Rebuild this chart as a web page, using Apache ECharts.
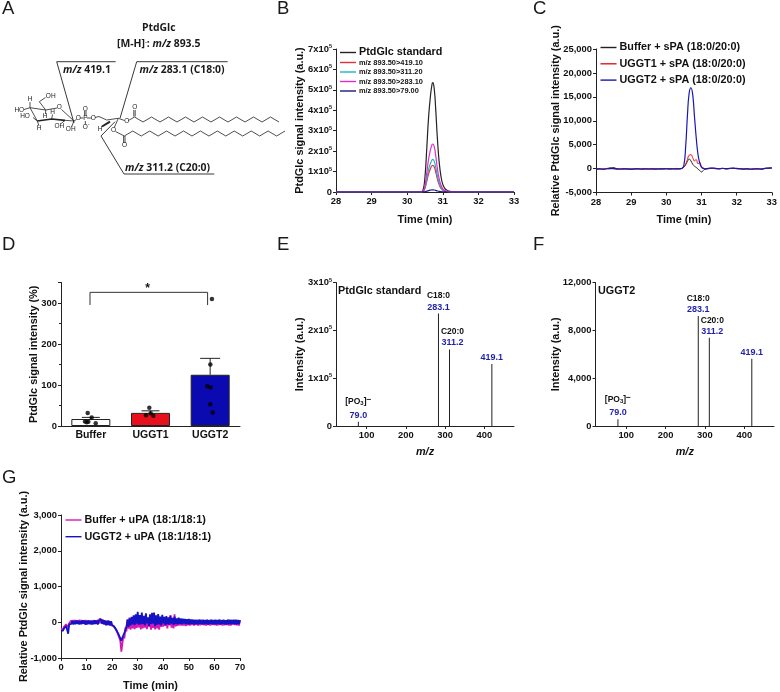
<!DOCTYPE html>
<html><head><meta charset="utf-8">
<style>html,body{margin:0;padding:0;background:#fff}#c{width:780px;height:692px}</style>
<script src="https://cdn.jsdelivr.net/npm/echarts@6/dist/echarts.min.js"></script>
</head><body><div id="c"></div>
<script>
// Panel B
const bTimes=[28,28.5,29,29.5,30,30.3,30.4,30.45,30.5,30.55,30.6,30.65,30.7,30.72,30.76,30.8,30.85,30.9,30.95,31,31.05,31.1,31.2,31.3,31.5,32,32.5,33];
const bStandard=[0,0,0,0,0,0,1000,11000,75000,214000,364000,465000,530000,535000,503000,407000,257000,144000,75000,37000,19000,11000,3000,1000,0,0,0,0];
const b419=[0,0,0,0,0,0,300,2600,18000,52000,88000,113000,129000,130000,122000,99000,62000,35000,18000,9000,4500,2600,800,300,0,0,0,0];
const b311=[0,0,0,0,0,0,300,3200,22000,64000,109000,139000,158000,160000,150000,122000,77000,43000,22000,11000,5600,3200,1000,300,0,0,0,0];
const b283=[0,0,0,0,0,0,500,5000,33000,94000,160000,204000,233000,235000,221000,179000,113000,63000,33000,16000,8000,4700,1400,500,0,0,0,0];
const b79=[0,0,0,0,0,0,0,200,1500,4200,7100,9100,10400,10500,9900,8000,5000,2800,1500,700,400,200,60,0,0,0,0,0];
const bYTicks=['0','1','2','3','4','5','6','7'];
// Panel C
const cTimes=[28,28.1,28.2,28.3,28.4,28.5,28.6,28.7,28.8,28.9,29,29.1,29.2,29.3,29.4,29.5,29.6,29.7,29.8,29.9,30,30.1,30.2,30.3,30.4,30.45,30.5,30.55,30.6,30.65,30.7,30.75,30.8,30.85,30.9,30.95,31,31.05,31.1,31.2,31.3,31.4,31.5,31.6,31.7,31.8,31.9,32,32.1,32.2,32.3,32.4,32.5,32.6,32.7,32.8,32.9,33];
const cBuffer=[-90,-50,-110,10,150,220,-60,-100,-40,-70,-110,-80,-40,-90,-60,-100,-70,-50,-90,-60,-40,-80,-60,-50,-40,60,300,800,1500,2000,1600,900,500,250,-100,-400,-700,-400,-100,-20,30,-30,-70,20,-50,0,40,-10,-50,-80,-50,-110,-60,-40,-90,10,60,100];
const cUggt1=[-130,-90,-150,-60,-20,-80,-120,-110,-80,-60,-100,-50,-90,-70,-110,-60,-30,-80,-40,-70,-20,-50,-60,-30,-30,80,350,900,1900,2800,2900,2300,1600,1900,1000,1300,400,200,-100,10,70,20,-40,40,-60,30,70,-20,-60,-120,-40,-100,-80,-70,-90,20,80,110];
const cUggt2=[-100,-60,-120,-40,-10,50,-80,-90,-50,-100,-130,-70,-60,-110,-40,-90,-70,-120,-50,-80,-30,-70,-40,-60,-20,100,700,4500,11000,15800,16900,15500,11000,6500,3000,1200,300,50,-50,50,120,60,-30,70,-20,40,90,30,-40,-100,-60,-140,-90,-50,-120,40,110,150];
// Panel D
const dCategories=['Buffer','UGGT1','UGGT2'];
const dMeans=[17,32,125];
const dErrorTops=[21,37,165];
const dDotX=[0.447,0.514,0.402,0.431,0.458,0.582,1.48,1.425,1.503,1.547,2.53,2.503,2.452,2.508,2.503,2.542];
const dDotY=[32,21,11,9,10.5,6.5,44.5,26,31,25,310,150,97,94,53,33];
const dBracketX=[0.486,0.486,2.457,2.457];
const dBracketY=[295,326,326,295];
// Panel E / F
const eMz=[79,283.1,311.2,419.1];
const eIntensity=[9000,235000,160000,129500];
const fMz=[79,283.1,311.2,419.1];
const fIntensity=[557,9190,7378,5624];
const peakNames=['[PO3]','C18:0','C20:0',''];
const peakValues=['79.0','283.1','311.2','419.1'];
const eYTicks=['0','1','2','3'];
const mzTicks=[100,200,300,400];
// Panel G
const gTimes=[0,0.4,0.8,1.2,1.6,2,2.4,2.8,3.2,3.6,4,4.4,4.8,5.2,5.6,6,6.4,6.8,7.2,7.6,8,8.4,8.8,9.2,9.6,10,10.4,10.8,11.2,11.6,12,12.4,12.8,13.2,13.6,14,14.4,14.8,15.2,15.6,16,16.4,16.8,17.2,17.6,18,18.4,18.8,19.2,19.6,20,20.4,20.8,21.2,21.6,22,22.4,22.8,23.2,23.6,24,24.4,24.8,25.2,25.6,26,26.4,26.8,27.2,27.6,28,28.4,28.8,29.2,29.6,30,30.4,30.8,31.2,31.6,32,32.4,32.8,33.2,33.6,34,34.4,34.8,35.2,35.6,36,36.4,36.8,37.2,37.6,38,38.4,38.8,39.2,39.6,40,40.4,40.8,41.2,41.6,42,42.4,42.8,43.2,43.6,44,44.4,44.8,45.2,45.6,46,46.4,46.8,47.2,47.6,48,48.4,48.8,49.2,49.6,50,50.4,50.8,51.2,51.6,52,52.4,52.8,53.2,53.6,54,54.4,54.8,55.2,55.6,56,56.4,56.8,57.2,57.6,58,58.4,58.8,59.2,59.6,60,60.4,60.8,61.2,61.6,62,62.4,62.8,63.2,63.6,64,64.4,64.8,65.2,65.6,66,66.4,66.8,67.2,67.6,68,68.4,68.8,69.2,69.6,70];
const gBuffer=[-180,-150,-190,-120,-90,-60,-70,-140,-20,10,50,-45,65,-40,60,-35,55,-45,70,-30,60,-40,50,-50,65,-35,55,-45,45,-55,50,-50,60,-35,55,-45,70,-40,105,-30,80,-50,60,-65,45,-75,50,-70,30,-85,-30,-100,-80,-170,-140,-280,-240,-440,-520,-820,-600,-380,-450,-150,-260,90,-180,130,-210,100,-170,60,-190,90,-160,50,-140,40,-200,70,-170,120,-150,60,-190,90,-130,30,-210,110,-160,60,-200,80,-170,40,-210,110,-130,70,-120,120,-100,100,-170,140,-90,200,-150,90,-170,220,-120,60,-100,90,-90,50,-90,70,-90,60,-110,70,-85,50,-95,65,-80,60,-90,55,-80,65,-95,50,-85,70,-75,60,-85,50,-90,65,-80,55,-95,60,-75,50,-80,60,-90,55,-85,65,-75,50,-95,60,-85,55,-80,60,-95,50,-90,65,-75,55,-80,60,-85,50,-90,55];
const gUggt2=[-240,-210,-235,-170,-150,-105,-120,-320,-60,-30,-45,40,-60,35,-55,50,-50,45,-65,30,-55,55,-45,50,-70,35,-60,50,-50,45,-65,45,-55,55,-50,50,-65,50,40,95,-40,70,-60,50,-85,35,-75,40,-90,25,-80,-30,-120,-90,-210,-170,-320,-280,-450,-520,-430,-470,-300,-330,-120,60,-130,110,-90,150,-60,190,-80,220,-40,290,-70,200,-60,270,-50,180,-90,250,-30,140,-100,220,-50,260,-40,270,-110,190,-70,230,-60,160,-90,210,-30,150,-80,170,-50,130,-70,180,-40,120,-70,160,-50,110,-60,130,-45,105,-55,100,-40,95,-50,85,-60,90,-55,80,-45,75,-65,70,-50,65,-60,75,-45,60,-55,70,-60,65,-50,70,-65,60,-45,75,-55,65,-60,70,-55,65,-50,75,-65,60,-45,70,-55,60,-65,75,-50,70,-60,65,-45,70,-55,75,-60,65,-50,60];

const FF='"Liberation Sans",Arial,sans-serif';
const pair=(xs,ys)=>xs.map((x,i)=>[x,ys[i]]);
const tickFont={fontFamily:FF,fontWeight:'bold',fontSize:9.4,color:'#111'};
const supRich={a:{fontFamily:FF,fontWeight:'bold',fontSize:9.4,color:'#111'},s:{fontFamily:FF,fontWeight:'bold',fontSize:5.5,color:'#111',padding:[0,0,5,0]}};
const axisLine={show:true,onZero:false,lineStyle:{color:'#222',width:1}};
const axisTick={show:true,length:3,lineStyle:{color:'#222',width:1}};
const thousands=v=>String(v).replace(/\B(?=(\d{3})+$)/g,',');
function nameOf(name,gap,size,extra){return Object.assign({name,nameLocation:'middle',nameGap:gap,nameMoveOverlap:false,nameTextStyle:{fontFamily:FF,fontWeight:'bold',fontSize:size||10.9,color:'#111'}},extra||{});}
function xAx(gi,min,max,interval,name,gap,extra){return Object.assign({type:'value',gridIndex:gi,min,max,interval,splitLine:{show:false},axisLine,axisTick,axisLabel:Object.assign({margin:5,showMinLabel:true,showMaxLabel:true},tickFont)},nameOf(name,gap),extra||{});}
function yAx(gi,min,max,interval,fmt,name,gap,extra){return Object.assign({type:'value',gridIndex:gi,min,max,interval,splitLine:{show:false},axisLine,axisTick,axisLabel:Object.assign({margin:4,formatter:fmt,rich:supRich},tickFont)},nameOf(name,gap,10.9,{nameRotate:90}),extra||{});}
const supFmt=(labels,unit)=>v=>{const l=labels[Math.round(v/unit)];return l==='0'?'{a|0}':'{a|'+l+'x10}{s|5}';};
const line=(name,x,ys,color,xi,yi,w,smooth)=>({type:'line',name,xAxisIndex:xi,yAxisIndex:yi,data:pair(x,ys),showSymbol:false,symbol:'none',smooth:!!smooth,lineStyle:{color,width:w||1},itemStyle:{color},silent:true});

function peakLabel(i,shift){
  const n=peakNames[i],v=peakValues[i];
  let head='';
  if(n==='[PO3]')head='{p|[PO}{q|3}{p|]}{r|−}\n';
  else if(n)head='{n|'+n+'}\n';
  return {show:true,position:'top',distance:1,offset:[shift,0],formatter:head+'{v|'+v+'}',
    rich:{n:{fontFamily:FF,fontWeight:'bold',fontSize:8.5,color:'#111',lineHeight:11},
          v:{fontFamily:FF,fontWeight:'bold',fontSize:9,color:'#1f1fb0',lineHeight:11},
          p:{fontFamily:FF,fontWeight:'bold',fontSize:8.5,color:'#111',lineHeight:16},
          q:{fontFamily:FF,fontWeight:'bold',fontSize:6,color:'#111',lineHeight:16,padding:[4,0,0,0]},
          r:{fontFamily:FF,fontWeight:'bold',fontSize:8.5,color:'#111',lineHeight:16,padding:[0,0,4,0]}}};
}
const peaks=(xi,yi,xs,ys,shifts)=>({type:'bar',xAxisIndex:xi,yAxisIndex:yi,barWidth:1,silent:true,itemStyle:{color:'#222'},
  data:xs.map((x,i)=>({value:[x,ys[i]],label:peakLabel(i,shifts[i])}))});

// Panel A drawing
const G=[];
const stroke='#222';
function poly(points,w,c){G.push({type:'polyline',silent:true,shape:{points},style:{stroke:c||stroke,lineWidth:w||0.8,fill:null}});}
function txt(text,x,y,size,opts){G.push({type:'text',silent:true,style:Object.assign({text,x,y,fontFamily:FF,fontSize:size,fill:'#222',textAlign:'center',textVerticalAlign:'middle'},opts||{})});}
function callRich(text,x,y,align){const base={fontFamily:'"Open Sans",'+FF,fontSize:10.4,fontWeight:'bold',fill:'#1a1a1a'};
  G.push({type:'text',silent:true,style:Object.assign({text,x,y,textAlign:align||'left',textVerticalAlign:'middle',rich:{i:Object.assign({},base,{fontStyle:'italic'}),b:base,s:Object.assign({},base,{fontSize:6,padding:[0,0,4,0]})}},base)});}
callRich('{b|PtdGlc}',158.7,28,'center');
callRich('{b|[M-H]}{s|-}{b|: }{i|m/z}{b| 893.5}',158.7,44.5,'center');
callRich('{i|m/z}{b| 419.1}',63,70);
callRich('{i|m/z}{b| 283.1 (C18:0)}',139.5,70);
callRich('{i|m/z}{b| 311.2 (C20:0)}',125,168);
poly([[115.7,61.7],[56.7,61.7],[74,123]],0.9);
poly([[227.7,61.7],[136.7,61.7],[120,118.3]],0.9);
poly([[214.3,174],[124,174],[101,136],[115,121.7]],0.9);
// sugar ring
poly([[30,107.7],[37.3,121]]);
poly([[37.3,121],[51.7,119],[65,120.3]],1.7);
poly([[65,120.3],[74,121],[61.5,109.5]]);
poly([[57,108],[45.7,110],[30,107.7]]);
poly([[30,107.7],[30,102]]);poly([[30,107.7],[24,109.5]]);
poly([[37.3,121],[33,117.5]]);poly([[37.3,121],[39,126]]);
poly([[51.7,119],[52.5,114.5]]);poly([[45.7,110],[45.5,114]]);
poly([[45.7,110],[39.3,101.7],[45.5,97.5]]);
poly([[65,120.3],[60.5,124]]);poly([[74,121],[71.5,127]]);
poly([[74,121],[76.5,119.5]]);
poly([[80,118],[83.5,118]]);poly([[87,118],[91.5,118]]);
poly([[84.6,115.5],[84.6,111]]);poly([[86,115.5],[86,111]]);poly([[85.3,121],[85.3,124.5]]);
poly([[95,117.5],[99,116.5],[106.7,120],[118.3,118.3],[124.5,120.5]]);
poly([[110,121.7],[102,126.5]],2);
poly([[118.3,118.3],[114.3,127.5]]);
poly([[128.5,120.5],[134.5,117]]);
poly([[133.8,116.5],[133.8,110]]);poly([[135.2,116.5],[135.2,110]]);
poly([[115.5,131.5],[124.3,136]]);
poly([[123.6,136],[123.6,143]]);poly([[125,136],[125,143]]);
const chainTop=[];for(let k=0;k<=17;k++)chainTop.push([134.5+8.5*k,k%2?122:117]);poly(chainTop);
const chainLow=[];for(let k=0;k<=19;k++)chainLow.push([124.3+8.46*k,k%2?131:136]);poly(chainLow);
[['H',30,99.3],['HO',19.3,110.3],['HO',25,116.7],['H',39,128.5],['H',52.7,112.3],['H',45,116.5],['OH',50.7,96.5],['O',59.3,107.5],['OH',59.3,126.3],['OH',70.7,129.7],['O',78.3,118.3],['P',85.3,118.3],['O',85.3,108.8],['O',85.3,127],['O',93.3,118.3],['O',126.7,121],['H',100,129],['O',113.5,130],['O',134.8,107.5],['O',124.5,145.7]].forEach(a=>txt(a[0],a[1],a[2],6.5));
txt('-',88.5,125,5);
// panel letters
[['A',2,9],['B',277,9],['C',533,9],['D',2,245],['E',277,245],['F',533,245],['G',2,478]].forEach(a=>txt(a[0],a[1],a[2],18.5,{textAlign:'left',fill:'#1a1a1a'}));
// E/F inset titles, asterisk
txt('PtdGlc standard',338,291,10.8,{textAlign:'left',fontWeight:'bold',fill:'#111'});
txt('UGGT2',598,291,10.8,{textAlign:'left',fontWeight:'bold',fill:'#111'});
txt('*',147.7,288.5,12,{fontWeight:'bold',fill:'#111'});

const lgText=(s)=>({fontFamily:FF,fontWeight:'bold',fontSize:s,color:'#111'});
const lg=(names,left,top,size,gap,tw)=>({show:true,selectedMode:false,orient:'vertical',left,top,data:names,icon:'rect',itemWidth:tw||16,itemHeight:1.4,itemGap:gap,padding:0,textStyle:Object.assign(lgText(size),{padding:[0,0,0,-2]})});

const option={animation:false,backgroundColor:'#fff',
 grid:[
  {left:336,top:49,width:178,height:143},
  {left:596,top:49,width:178,height:143.5},
  {left:61,top:282.5,width:179,height:143.5},
  {left:336,top:282.5,width:178,height:143.5},
  {left:595.5,top:282.5,width:178.5,height:143.5},
  {left:61,top:515,width:179,height:143.5}],
 xAxis:[
  xAx(0,28,33,1,'Time (min)',22),
  xAx(1,28,33,1,'Time (min)',22),
  {type:'category',gridIndex:2,data:dCategories,axisLine:{show:true,onZero:false,lineStyle:{color:'#222'}},axisTick:{show:false},axisLabel:{fontFamily:FF,fontWeight:'bold',fontSize:10.5,color:'#111',margin:4},splitLine:{show:false}},
  {type:'value',gridIndex:2,min:0,max:3,show:false},
  xAx(3,22,475.5,100,'m/z',20,{nameTextStyle:{fontFamily:FF,fontWeight:'bold',fontStyle:'italic',fontSize:10.9,color:'#111'},axisTick:Object.assign({},axisTick,{customValues:mzTicks}),axisLabel:Object.assign({margin:5,customValues:mzTicks},tickFont)}),
  xAx(4,22,475.5,100,'m/z',20,{nameTextStyle:{fontFamily:FF,fontWeight:'bold',fontStyle:'italic',fontSize:10.9,color:'#111'},axisTick:Object.assign({},axisTick,{customValues:mzTicks}),axisLabel:Object.assign({margin:5,customValues:mzTicks},tickFont)}),
  xAx(5,0,70,10,'Time (min)',22)],
 yAxis:[
  yAx(0,0,700000,100000,supFmt(bYTicks,100000),'PtdGlc signal intensity (a.u.)',30.5),
  yAx(1,-5000,25000,5000,thousands,'Relative PtdGlc signal intensity (a.u.)',34.5),
  yAx(2,0,350,100,v=>v%100===0?String(v):'','PtdGlc signal intensity (%)',21.5,{minorTick:{show:true,splitNumber:2,length:2,lineStyle:{color:'#222'}},axisLabel:Object.assign({margin:4},tickFont,{showMaxLabel:false})}),
  yAx(3,0,300000,100000,supFmt(eYTicks,100000),'Intensity (a.u.)',30.5),
  yAx(4,0,12000,4000,thousands,'Intensity (a.u.)',34),
  yAx(5,-1000,3000,1000,thousands,'Relative PtdGlc signal intensity (a.u.)',31.5)],
 legend:[
  lg(['PtdGlc standard'],340,47,10.8,0),
  lg(['m/z 893.50>419.10','m/z 893.50>311.20','m/z 893.50>283.10','m/z 893.50>79.00'],340,59,7.4,2.5),
  lg(['Buffer + sPA (18:0/20:0)','UGGT1 + sPA (18:0/20:0)','UGGT2 + sPA (18:0/20:0)'],600.5,42,10.8,5.3,16),
  lg(['Buffer + uPA (18:1/18:1)','UGGT2 + uPA (18:1/18:1)'],65.5,514.5,10.8,5.7,16)],
 graphic:{elements:G},
 series:[
  line('PtdGlc standard',bTimes,bStandard,'#222',0,0,1.2,true),
  line('m/z 893.50>419.10',bTimes,b419,'#e0303a',0,0,1.2,true),
  line('m/z 893.50>311.20',bTimes,b311,'#16b6c8',0,0,1.2,true),
  line('m/z 893.50>283.10',bTimes,b283,'#e32cc4',0,0,1.2,true),
  line('m/z 893.50>79.00',bTimes,b79,'#1d1680',0,0,1.2,true),
  line('Buffer + sPA (18:0/20:0)',cTimes,cBuffer,'#222',1,1,1,true),
  line('UGGT1 + sPA (18:0/20:0)',cTimes,cUggt1,'#e2141c',1,1,1,true),
  line('UGGT2 + sPA (18:0/20:0)',cTimes,cUggt2,'#1616b8',1,1,1.2,true),
  {type:'bar',xAxisIndex:2,yAxisIndex:2,barWidth:39,silent:true,data:dMeans.map((v,i)=>({value:v,itemStyle:{color:['#ffffff','#e8101c','#0a0ab0'][i],borderColor:'#222',borderWidth:1}}))},
  {type:'custom',xAxisIndex:2,yAxisIndex:2,silent:true,data:dCategories.map((c,i)=>[i,dMeans[i],dErrorTops[i]]),
   encode:{x:0,y:[1,2]},
   renderItem:(p,api)=>{const a=api.coord([api.value(0),api.value(1)]),b=api.coord([api.value(0),api.value(2)]);
     const w=api.value(0)===2?20:18,st={stroke:'#222',lineWidth:1};
     return {type:'group',children:[
       {type:'line',shape:{x1:a[0],y1:a[1],x2:b[0],y2:b[1]},style:st},
       {type:'line',shape:{x1:a[0]-w/2,y1:b[1],x2:a[0]+w/2,y2:b[1]},style:st}]};}},
  {type:'scatter',xAxisIndex:3,yAxisIndex:2,symbolSize:4.5,silent:true,itemStyle:{color:'#000'},data:pair(dDotX,dDotY),z:5},
  {type:'line',xAxisIndex:3,yAxisIndex:2,showSymbol:false,symbol:'none',silent:true,lineStyle:{color:'#333',width:1},data:pair(dBracketX,dBracketY)},
  peaks(4,3,eMz,eIntensity,[0,0,3,0]),
  peaks(5,4,fMz,fIntensity,[0,0,3,0]),
  line('Buffer + uPA (18:1/18:1)',gTimes,gBuffer,'#d818b4',6,5,1.8),
  line('UGGT2 + uPA (18:1/18:1)',gTimes,gUggt2,'#1414c4',6,5,1.8)
 ]};
const chart=echarts.init(document.getElementById('c'),null,{renderer:'canvas'});
chart.setOption(option);
</script></body></html>
